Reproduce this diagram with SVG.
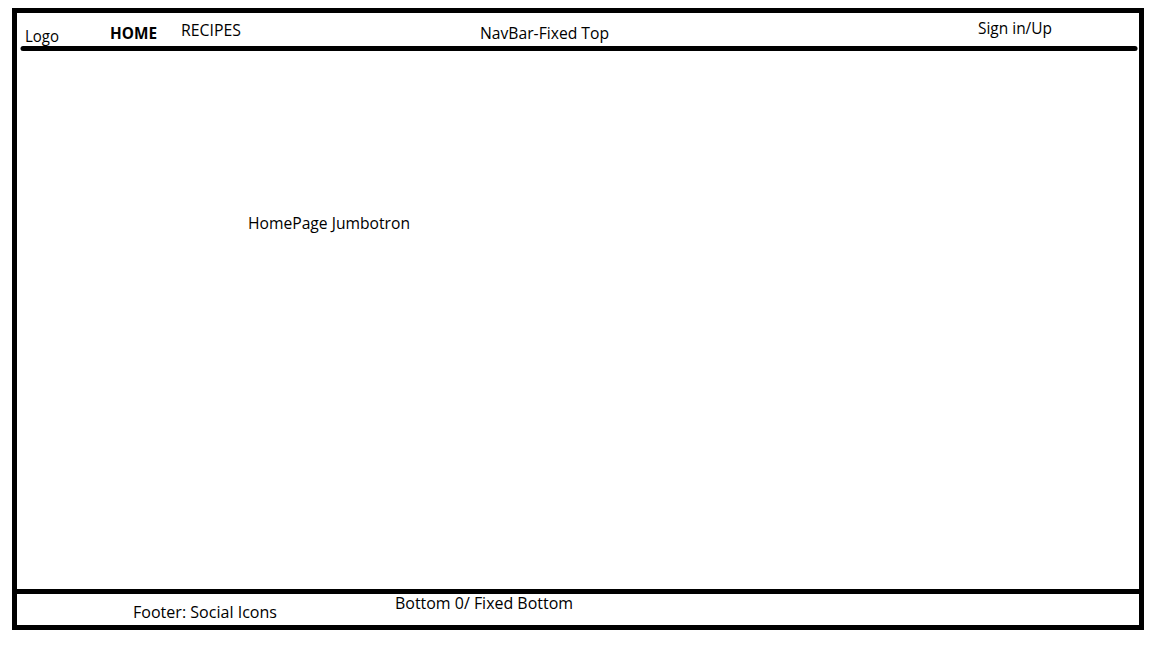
<svg xmlns="http://www.w3.org/2000/svg" width="1152" height="648" viewBox="0 0 1152 648">
<style>
.t{font-family:"Open Sans","Liberation Sans",sans-serif;font-size:15.5px;fill:#000}
.b{font-weight:bold}
.ln{stroke:#000;stroke-width:5;fill:none}
</style>
<rect width="1152" height="648" fill="#fff"/>
<g id="frame">
<rect class="ln" x="14.5" y="10.5" width="1127" height="617"/>
</g>
<g id="connectors">
<line class="ln" x1="23" y1="48.5" x2="1135" y2="48.5" stroke-linecap="round"/>
<line class="ln" x1="14.5" y1="591.5" x2="1141.5" y2="591.5"/>
</g>
<g id="navbar">
<text class="t" x="25" y="41.5" textLength="34" lengthAdjust="spacingAndGlyphs">Logo</text>
<text class="t b" x="110" y="38.5" textLength="47" lengthAdjust="spacingAndGlyphs">HOME</text>
<text class="t" x="181" y="35.5" textLength="60" lengthAdjust="spacingAndGlyphs">RECIPES</text>
<text class="t" x="480" y="38.5" textLength="129" lengthAdjust="spacingAndGlyphs">NavBar-Fixed Top</text>
<text class="t" x="978" y="33.5" textLength="74" lengthAdjust="spacingAndGlyphs">Sign in/Up</text>
</g>
<g id="jumbotron">
<text class="t" x="248" y="228.5" textLength="162" lengthAdjust="spacingAndGlyphs">HomePage Jumbotron</text>
</g>
<g id="footer">
<text class="t" x="133" y="617.5" textLength="144" lengthAdjust="spacingAndGlyphs">Footer: Social Icons</text>
<text class="t" x="395" y="608.5" textLength="178" lengthAdjust="spacingAndGlyphs">Bottom 0/ Fixed Bottom</text>
</g>
</svg>
